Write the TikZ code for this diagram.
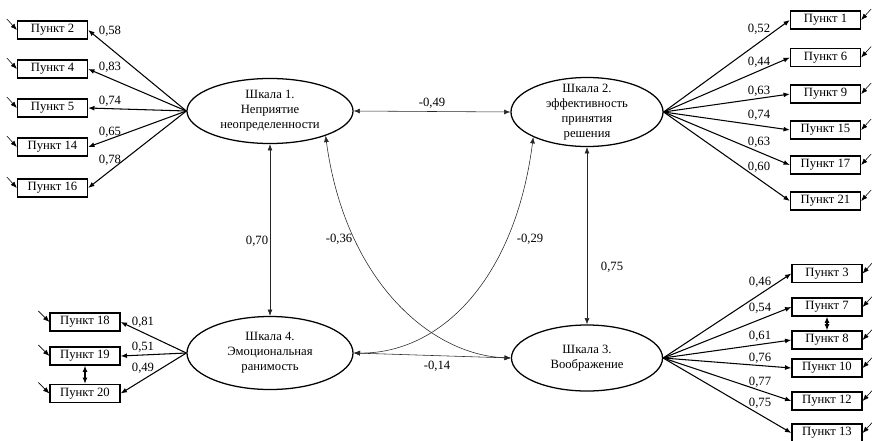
\documentclass[tikz,border=0pt]{standalone}
\usepackage{fontspec}
\setmainfont{Liberation Serif}
\usetikzlibrary{shapes.geometric,arrows.meta}

\begin{document}
\begin{tikzpicture}[x=0.025cm, y=-0.025cm,
        >={Latex[length=4.5pt,width=3.5pt]},
        latent/.style={draw, line width=0.9pt, ellipse, inner sep=0pt, align=center, font=\fontsize{9}{10.6}\selectfont},
        item/.style={draw, line width=0.9pt, minimum width=1.75cm, minimum height=0.45cm, inner sep=0pt, font=\fontsize{9}{10}\selectfont},
        load/.style={->, line width=0.75pt},
        corr/.style={<->, thin, black!85},
        err/.style={->, thin},
        coef/.style={font=\fontsize{9}{10}\selectfont, inner sep=1pt}
    ]
    \useasboundingbox (0,0) rectangle (872,440);

    % scales
    \node[latent, minimum width=4.15cm, minimum height=1.625cm] (s1) at (270,111) {Шкала 1.\\Неприятие\\неопределенности};
    \node[latent, minimum width=3.8cm, minimum height=1.725cm, inner ysep=-4pt] (s2) at (587,112) {Шкала 2.\\эффективность\\принятия\\решения};
    \node[latent, minimum width=3.775cm, minimum height=1.65cm] (s3) at (587,358) {Шкала 3.\\Воображение};
    \node[latent, minimum width=4.15cm, minimum height=1.825cm] (s4) at (270,353) {Шкала 4.\\Эмоциональная\\ранимость};

    % items of scale 1
    \foreach \n/\y/\v/\ly in {2/30/0{,}58/31, 4/69/0{,}83/67, 5/108/0{,}74/101, 14/147/0{,}65/132, 16/188/0{,}78/160} {
        \node[item] (p\n) at (52.5,\y) {Пункт \n};
        \draw[load] (s1.west) -- (p\n.east);
        \node[coef] (c\n) at (110,\ly) {\v};
        \coordinate (u\n) at ([shift={(-10,-11)}]p\n.west);
        \draw[err] (u\n) -- (p\n.west);
    }

    % items of scale 2
    \foreach \n/\y/\v/\ly in {1/20/0{,}52/29, 6/57.5/0{,}44/62, 9/94/0{,}63/91, 15/130/0{,}74/115, 17/165/0{,}63/142, 21/201/0{,}60/167} {
        \node[item] (p\n) at (825.5,\y) {Пункт \n};
        \draw[load] (s2.east) -- (p\n.west);
        \node[coef] (c\n) at (759,\ly) {\v};
        \coordinate (u\n) at ([shift={(10,-11)}]p\n.east);
        \draw[err] (u\n) -- (p\n.east);
    }

    % items of scale 3
    \foreach \n/\y/\v/\ly in {3/273.5/0{,}46/282, 7/307/0{,}54/308, 8/340/0{,}61/336, 10/368/0{,}76/358, 12/401/0{,}77/382, 13/433/0{,}75/403} {
        \node[item] (p\n) at (827,\y) {Пункт \n};
        \draw[load] (s3.east) -- (p\n.west);
        \node[coef] (c\n) at (760,\ly) {\v};
        \coordinate (u\n) at ([shift={(10,-11)}]p\n.east);
        \draw[err] (u\n) -- (p\n.east);
    }

    % items of scale 4
    \foreach \n/\y/\v/\ly in {18/322/0{,}81/322, 19/356/0{,}51/347, 20/393.5/0{,}49/368} {
        \node[item] (p\n) at (85,\y) {Пункт \n};
        \draw[load] (s4.west) -- (p\n.east);
        \node[coef] (c\n) at (143,\ly) {\v};
        \coordinate (u\n) at ([shift={(-11,-11)}]p\n.west);
        \draw[err] (u\n) -- (p\n.west);
    }

    \draw[<->, line width=0.75pt] (p7.south) -- (p8.north);
    \draw[<->, line width=0.75pt] (p19.south) -- (p20.north);

    % correlations
    \draw[corr] (s1.east) -- (s2.west);
    \draw[corr] (s1.south) -- (s4.north);
    \draw[corr] (s2.south) -- (s3.north);
    \draw[corr] (s4.east) -- (s3.west);
    \draw[corr] (s1.-24) .. controls (345,280) and (430,355) .. (s3.west);
    \draw[corr] (s2.-155) .. controls (515,280) and (440,354) .. (s4.east);

    \node[coef] (k12) at (432,103) {-0{,}49};
    \node[coef] (k14) at (257,241) {0{,}70};
    \node[coef] (k23) at (612,267) {0{,}75};
    \node[coef] (k13) at (339,239) {-0{,}36};
    \node[coef] (k24) at (530,239) {-0{,}29};
    \node[coef] (k34) at (437,366) {-0{,}14};

\end{tikzpicture}
\end{document}
